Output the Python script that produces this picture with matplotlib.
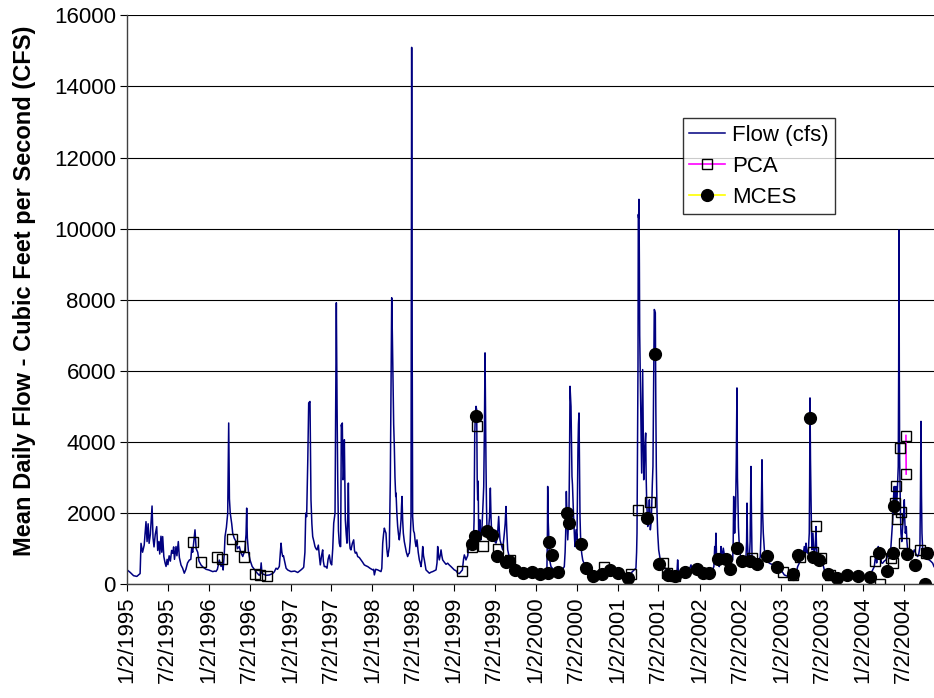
import numpy as np
import pandas as pd
import matplotlib
matplotlib.use("Agg")
import matplotlib.pyplot as plt

plt.rcParams['font.family'] = 'Liberation Sans'

# mean daily flow, decimal year vs cfs
flow_year = [
    1995.003, 1995.04, 1995.08, 1995.12, 1995.16, 1995.171, 1995.19, 1995.21, 1995.232, 1995.245,
    1995.258, 1995.27, 1995.285, 1995.306, 1995.318, 1995.33, 1995.345, 1995.363, 1995.375, 1995.39,
    1995.40, 1995.415, 1995.425, 1995.436, 1995.45, 1995.465, 1995.477, 1995.49, 1995.50, 1995.515,
    1995.53, 1995.545, 1995.559, 1995.57, 1995.58, 1995.59, 1995.599, 1995.61, 1995.627, 1995.64,
    1995.66, 1995.68, 1995.70, 1995.72, 1995.74, 1995.762, 1995.78, 1995.79, 1995.803, 1995.82,
    1995.831, 1995.845, 1995.864, 1995.88, 1995.905, 1995.93, 1995.966, 1996.00, 1996.048, 1996.075,
    1996.088, 1996.105, 1996.128, 1996.15, 1996.165, 1996.175, 1996.19, 1996.198, 1996.215, 1996.231,
    1996.243, 1996.252, 1996.262, 1996.28, 1996.292, 1996.31, 1996.333, 1996.35, 1996.373, 1996.39,
    1996.415, 1996.44, 1996.455, 1996.463, 1996.471, 1996.485, 1996.504, 1996.53, 1996.556, 1996.585,
    1996.617, 1996.63, 1996.64, 1996.65, 1996.70, 1996.74, 1996.78, 1996.801, 1996.822, 1996.84,
    1996.862, 1996.883, 1996.893, 1996.903, 1996.913, 1996.923, 1996.945, 1996.965, 1997.005, 1997.05,
    1997.087, 1997.127, 1997.15, 1997.160, 1997.175, 1997.185, 1997.196, 1997.21, 1997.221, 1997.237,
    1997.249, 1997.26, 1997.270, 1997.285, 1997.298, 1997.31, 1997.323, 1997.339, 1997.352, 1997.363,
    1997.378, 1997.392, 1997.40, 1997.412, 1997.428, 1997.445, 1997.458, 1997.473, 1997.488, 1997.502,
    1997.515, 1997.527, 1997.543, 1997.551, 1997.559, 1997.568, 1997.576, 1997.585, 1997.595, 1997.605,
    1997.612, 1997.620, 1997.626, 1997.632, 1997.641, 1997.648, 1997.657, 1997.663, 1997.669, 1997.68,
    1997.689, 1997.700, 1997.706, 1997.712, 1997.718, 1997.728, 1997.738, 1997.755, 1997.771, 1997.781,
    1997.791, 1997.805, 1997.820, 1997.84, 1997.861, 1997.88, 1997.901, 1997.92, 1997.943, 1997.97,
    1998.004, 1998.015, 1998.024, 1998.04, 1998.065, 1998.085, 1998.105, 1998.115, 1998.126, 1998.136,
    1998.146, 1998.156, 1998.166, 1998.176, 1998.187, 1998.197, 1998.207, 1998.215, 1998.219, 1998.228,
    1998.236, 1998.244, 1998.252, 1998.26, 1998.268, 1998.276, 1998.285, 1998.289, 1998.299, 1998.309,
    1998.319, 1998.329, 1998.34, 1998.350, 1998.356, 1998.362, 1998.37, 1998.378, 1998.39, 1998.402,
    1998.415, 1998.431, 1998.441, 1998.451, 1998.462, 1998.472, 1998.476, 1998.480, 1998.485, 1998.492,
    1998.503, 1998.513, 1998.523, 1998.533, 1998.545, 1998.56, 1998.574, 1998.584, 1998.594, 1998.605,
    1998.615, 1998.625, 1998.635, 1998.645, 1998.655, 1998.676, 1998.696, 1998.717, 1998.737, 1998.758,
    1998.778, 1998.790, 1998.798, 1998.808, 1998.818, 1998.828, 1998.839, 1998.849, 1998.859, 1998.879,
    1998.90, 1998.920, 1998.94, 1998.961, 1998.98, 1999.001, 1999.022, 1999.043, 1999.063, 1999.083,
    1999.10, 1999.114, 1999.124, 1999.134, 1999.144, 1999.155, 1999.165, 1999.177, 1999.185, 1999.193,
    1999.205, 1999.218, 1999.226, 1999.234, 1999.243, 1999.251, 1999.259, 1999.267, 1999.275, 1999.281,
    1999.287, 1999.293, 1999.299, 1999.307, 1999.315, 1999.321, 1999.328, 1999.338, 1999.348, 1999.355,
    1999.361, 1999.37, 1999.377, 1999.383, 1999.389, 1999.395, 1999.401, 1999.412, 1999.422, 1999.432,
    1999.442, 1999.45, 1999.458, 1999.47, 1999.483, 1999.497, 1999.511, 1999.527, 1999.544, 1999.552,
    1999.560, 1999.577, 1999.593, 1999.603, 1999.613, 1999.623, 1999.633, 1999.643, 1999.654, 1999.674,
    1999.694, 1999.715, 1999.735, 1999.765, 1999.796, 1999.837, 1999.878, 1999.91, 1999.939, 1999.98,
    2000.020, 2000.06, 2000.102, 2000.125, 2000.134, 2000.140, 2000.143, 2000.149, 2000.155, 2000.161,
    2000.167, 2000.183, 2000.20, 2000.224, 2000.245, 2000.265, 2000.286, 2000.306, 2000.326, 2000.346,
    2000.356, 2000.363, 2000.371, 2000.38, 2000.388, 2000.395, 2000.403, 2000.41, 2000.416, 2000.422,
    2000.428, 2000.434, 2000.440, 2000.446, 2000.452, 2000.458, 2000.465, 2000.471, 2000.477, 2000.483,
    2000.489, 2000.495, 2000.501, 2000.507, 2000.513, 2000.519, 2000.526, 2000.532, 2000.538, 2000.544,
    2000.550, 2000.56, 2000.571, 2000.581, 2000.591, 2000.61, 2000.632, 2000.652, 2000.672, 2000.713,
    2000.754, 2000.795, 2000.835, 2000.876, 2000.917, 2000.958, 2000.999, 2001.04, 2001.080, 2001.12,
    2001.161, 2001.19, 2001.222, 2001.230, 2001.235, 2001.241, 2001.247, 2001.251, 2001.255, 2001.259,
    2001.264, 2001.268, 2001.276, 2001.284, 2001.292, 2001.298, 2001.304, 2001.310, 2001.317, 2001.323,
    2001.329, 2001.335, 2001.341, 2001.347, 2001.353, 2001.36, 2001.366, 2001.376, 2001.386, 2001.392,
    2001.398, 2001.406, 2001.415, 2001.422, 2001.430, 2001.438, 2001.446, 2001.452, 2001.459, 2001.465,
    2001.471, 2001.480, 2001.488, 2001.500, 2001.515, 2001.528, 2001.55, 2001.589, 2001.63, 2001.671,
    2001.70, 2001.725, 2001.732, 2001.740, 2001.752, 2001.79, 2001.834, 2001.87, 2001.895, 2001.905,
    2001.916, 2001.957, 2001.997, 2002.04, 2002.078, 2002.12, 2002.160, 2002.175, 2002.185, 2002.192,
    2002.200, 2002.206, 2002.213, 2002.227, 2002.241, 2002.252, 2002.262, 2002.268, 2002.274, 2002.282,
    2002.290, 2002.305, 2002.323, 2002.343, 2002.363, 2002.385, 2002.405, 2002.411, 2002.417, 2002.423,
    2002.429, 2002.435, 2002.441, 2002.449, 2002.457, 2002.463, 2002.469, 2002.475, 2002.482, 2002.494,
    2002.506, 2002.527, 2002.547, 2002.565, 2002.575, 2002.580, 2002.586, 2002.592, 2002.608, 2002.618,
    2002.628, 2002.635, 2002.641, 2002.655, 2002.669, 2002.69, 2002.710, 2002.726, 2002.742, 2002.752,
    2002.763, 2002.771, 2002.779, 2002.791, 2002.803, 2002.83, 2002.852, 2002.893, 2002.934, 2002.965,
    2002.995, 2003.036, 2003.067, 2003.097, 2003.128, 2003.158, 2003.18, 2003.199, 2003.220, 2003.240,
    2003.26, 2003.280, 2003.290, 2003.301, 2003.311, 2003.321, 2003.331, 2003.341, 2003.346, 2003.350,
    2003.356, 2003.362, 2003.368, 2003.374, 2003.380, 2003.386, 2003.394, 2003.403, 2003.413, 2003.423,
    2003.429, 2003.435, 2003.449, 2003.463, 2003.484, 2003.505, 2003.525, 2003.546, 2003.566, 2003.606,
    2003.647, 2003.708, 2003.769, 2003.83, 2003.891, 2003.95, 2004.014, 2004.055, 2004.095, 2004.116,
    2004.136, 2004.146, 2004.156, 2004.165, 2004.175, 2004.185, 2004.197, 2004.209, 2004.223, 2004.238,
    2004.258, 2004.279, 2004.30, 2004.319, 2004.335, 2004.350, 2004.361, 2004.370, 2004.380, 2004.390,
    2004.401, 2004.407, 2004.413, 2004.421, 2004.429, 2004.434, 2004.438, 2004.442, 2004.446, 2004.450,
    2004.456, 2004.462, 2004.472, 2004.483, 2004.493, 2004.503, 2004.509, 2004.515, 2004.521, 2004.527,
    2004.535, 2004.544, 2004.564, 2004.584, 2004.605, 2004.625, 2004.645, 2004.666, 2004.680, 2004.694,
    2004.700, 2004.707, 2004.713, 2004.719, 2004.727, 2004.735, 2004.752, 2004.768, 2004.788, 2004.808,
    2004.83, 2004.850, 2004.866,
]
flow_cfs = [
    400, 330, 240, 220, 300, 1150, 900, 1100, 1760, 1200,
    1700, 1150, 1400, 2200, 1300, 1050, 1400, 1620, 950, 1200,
    850, 1350, 900, 1340, 780, 600, 500, 700, 550, 800,
    650, 950, 870, 1050, 700, 900, 1060, 800, 1200, 750,
    540, 450, 310, 420, 600, 680, 700, 1000, 900, 1300,
    1530, 1000, 900, 650, 540, 480, 420, 400, 355, 370,
    360, 420, 680, 500, 600, 400, 900, 1340, 1600, 2000,
    4535, 2400, 2000, 1700, 1437, 1300, 1200, 1000, 1060, 900,
    780, 950, 1400, 2141, 1300, 900, 680, 500, 420, 330,
    250, 300, 600, 300, 250, 260, 300, 350, 450, 420,
    500, 1155, 900, 780, 800, 684, 450, 400, 355, 370,
    330, 403, 450, 479, 900, 2000, 1900, 3500, 5100, 5140,
    2375, 1700, 1341, 1200, 1060, 1000, 966, 1100, 780, 544,
    800, 966, 650, 496, 500, 451, 700, 825, 600, 544,
    1000, 1718, 2000, 5000, 7916, 5000, 2938, 1500, 1155, 1060,
    1060, 4487, 4400, 4535, 2938, 3000, 4065, 2800, 1811, 1400,
    1155, 2000, 2845, 1800, 1248, 1000, 966, 1150, 1248, 950,
    873, 900, 778, 750, 684, 620, 544, 520, 496, 450,
    403, 420, 262, 420, 403, 380, 355, 450, 1155, 1400,
    1577, 1500, 1437, 1000, 778, 900, 1060, 2200, 2938, 5500,
    8057, 7000, 5755, 4500, 3876, 3000, 2468, 2563, 2000, 1623,
    1400, 1248, 1500, 1811, 2200, 2468, 1800, 1437, 1200, 1060,
    900, 778, 850, 873, 1200, 1904, 8000, 15100, 8000, 1904,
    1500, 1437, 1200, 1060, 1248, 900, 684, 600, 496, 700,
    1060, 800, 684, 550, 403, 355, 310, 340, 355, 380,
    403, 600, 1060, 800, 684, 800, 966, 800, 684, 620,
    560, 592, 540, 496, 450, 403, 380, 310, 300, 355,
    400, 700, 825, 750, 684, 750, 800, 1060, 1100, 1060,
    1200, 1437, 1300, 1060, 1800, 4200, 4800, 5003, 4900, 3000,
    2375, 2900, 1437, 1600, 1811, 1500, 1248, 1500, 2000, 2400,
    2750, 4500, 6507, 4800, 3313, 2200, 1530, 1500, 1600, 1900,
    2704, 1900, 1437, 1300, 1248, 1200, 1155, 1300, 1904, 1500,
    1248, 1100, 966, 1200, 1437, 1700, 2186, 1500, 966, 750,
    684, 600, 496, 420, 403, 330, 310, 280, 262, 300,
    290, 300, 310, 350, 496, 1500, 2750, 1800, 1437, 900,
    684, 496, 450, 355, 330, 310, 330, 355, 420, 496,
    900, 1437, 2609, 1800, 1248, 1600, 2000, 3500, 5567, 5285,
    5000, 4000, 3031, 2800, 2375, 2000, 1623, 1300, 1060, 1300,
    1530, 1400, 1248, 2500, 3783, 4500, 4817, 3200, 1904, 1400,
    1060, 850, 684, 620, 592, 480, 403, 380, 355, 330,
    355, 370, 355, 330, 310, 290, 262, 240, 214, 250,
    310, 380, 451, 900, 1437, 4000, 6130, 10400, 10300, 10826,
    9000, 7000, 5662, 4500, 3127, 4500, 6037, 4500, 2938, 3200,
    3783, 4000, 4253, 3000, 2375, 2000, 1623, 1800, 2375, 1900,
    1530, 1700, 2186, 2800, 3313, 5500, 7727, 7700, 7634, 5000,
    3313, 2000, 1437, 966, 750, 592, 540, 420, 330, 310,
    330, 400, 684, 400, 355, 340, 355, 380, 544, 450,
    403, 380, 355, 330, 310, 330, 403, 500, 1060, 800,
    1437, 900, 684, 550, 496, 700, 1060, 900, 778, 850,
    1014, 800, 684, 600, 496, 600, 684, 1200, 2468, 1800,
    1437, 1800, 2186, 3500, 5521, 3000, 2375, 1600, 1248, 900,
    684, 620, 592, 650, 1200, 2282, 1200, 800, 684, 1200,
    3313, 1800, 800, 684, 684, 620, 592, 650, 778, 1500,
    3501, 2000, 1437, 1000, 778, 650, 592, 550, 496, 400,
    403, 262, 230, 214, 200, 214, 300, 496, 600, 684,
    700, 1060, 800, 1155, 900, 873, 1000, 1437, 3000, 5240,
    3500, 2375, 1500, 966, 1200, 1437, 1000, 873, 1000, 1623,
    1100, 873, 780, 684, 640, 592, 403, 300, 214, 180,
    150, 160, 169, 180, 214, 200, 214, 260, 310, 400,
    496, 700, 873, 600, 900, 1060, 800, 873, 600, 592,
    650, 684, 800, 966, 900, 1400, 1811, 2400, 2750, 2200,
    2750, 2000, 2375, 2800, 3313, 6000, 9962, 6000, 3500, 2845,
    2000, 1437, 1200, 1623, 1900, 2375, 1800, 1437, 1500, 1623,
    1200, 966, 850, 778, 850, 966, 850, 778, 850, 1060,
    2500, 4581, 2500, 1437, 1000, 873, 800, 778, 700, 684,
    640, 592, 496,
]

# PCA grab samples
pca_year = [
    1995.811, 1995.901, 1996.104, 1996.165, 1996.284, 1996.381, 1996.434, 1996.565, 1996.626, 1996.708,
    1999.095, 1999.215, 1999.273, 1999.356, 1999.535, 1999.682, 2000.831, 2001.167, 2001.243, 2001.396,
    2001.556, 2001.598, 2001.699, 2002.641, 2003.023, 2003.146, 2003.227, 2003.386, 2003.429, 2003.490,
    2003.600, 2004.150, 2004.202, 2004.340, 2004.364, 2004.389, 2004.407, 2004.416, 2004.445, 2004.467,
    2004.502, 2004.523, 2004.5258, 2004.691, 2004.768,
]
pca_cfs = [
    1183, 620, 778, 713, 1276, 1087, 761, 290, 254, 225,
    383, 1060, 4440, 1070, 990, 684, 480, 300, 2093, 2300,
    592, 320, 234, 732, 355, 262, 778, 920, 1642, 732,
    262, 650, 15, 732, 590, 2290, 2769, 1831, 3820, 2030,
    1172, 4183, 3099, 966, 873,
]

# MCES samples
mces_year = [
    1999.218, 1999.254, 1999.267, 1999.397, 1999.458, 1999.523, 1999.633, 1999.670, 1999.749, 1999.841,
    1999.947, 2000.049, 2000.150, 2000.163, 2000.196, 2000.275, 2000.381, 2000.407, 2000.546, 2000.611,
    2000.697, 2000.801, 2000.905, 2001.002, 2001.119, 2001.363, 2001.455, 2001.507, 2001.617, 2001.699,
    2001.822, 2001.965, 2002.045, 2002.119, 2002.229, 2002.323, 2002.372, 2002.454, 2002.515, 2002.616,
    2002.698, 2002.828, 2002.950, 2003.146, 2003.199, 2003.350, 2003.390, 2003.463, 2003.573, 2003.676,
    2003.798, 2003.940, 2004.083, 2004.197, 2004.287, 2004.368, 2004.380, 2004.539, 2004.633, 2004.756,
    2004.776,
]
mces_cfs = [
    1130, 1350, 4741, 1505, 1380, 790, 637, 660, 390, 327,
    355, 290, 310, 1200, 825, 355, 2000, 1735, 1135, 451,
    234, 300, 395, 310, 169, 1876, 6480, 572, 262, 234,
    355, 423, 310, 310, 704, 721, 423, 1014, 665, 665,
    572, 797, 496, 282, 825, 4676, 778, 684, 290, 169,
    262, 234, 197, 873, 383, 890, 2210, 854, 544, 20,
    873,
]

tick_labels = []
for yr in range(1995, 2005):
    tick_labels += [f'1/2/{yr}', f'7/2/{yr}']

start = pd.Timestamp('1995-01-02')


def to_date(years):
    return start + pd.to_timedelta((np.asarray(years, dtype=float) - 1995) * 365.25, unit='D')


def break_gaps(years, values, max_days=1.5):
    # samples only join up when taken on consecutive days
    t = to_date(years)
    v = np.asarray(values, dtype=float)
    xs, ys = [t[0]], [v[0]]
    for i in range(1, len(t)):
        if (t[i] - t[i - 1]) / pd.Timedelta(days=1) > max_days:
            xs.append(t[i - 1])
            ys.append(np.nan)
        xs.append(t[i])
        ys.append(v[i])
    return xs, ys


fig = plt.figure(figsize=(9.34, 6.98), dpi=100)
ax = fig.add_axes([0.136, 0.163, 0.864, 0.815])

ax.plot(to_date(flow_year), flow_cfs, color='#000080', linewidth=1.1, label='Flow (cfs)')

px, py = break_gaps(pca_year, pca_cfs)
ax.plot(px, py, color='#FF00FF', linewidth=1.2, marker='s', markersize=7.5,
        markerfacecolor='none', markeredgecolor='black', markeredgewidth=1.0, label='PCA')

mx, my = break_gaps(mces_year, mces_cfs)
ax.plot(mx, my, color='#FFFF00', linewidth=1.2, marker='o', markersize=8.5,
        markerfacecolor='black', markeredgecolor='black', label='MCES')

tick_dates = pd.to_datetime(tick_labels, format='%m/%d/%Y')
ax.set_xticks(tick_dates)
ax.set_xticklabels(tick_labels, rotation=90, fontsize=16)
ax.set_xlim(start, to_date([2004.866])[0])

ax.set_ylim(0, 16000)
ax.set_yticks(np.arange(0, 16001, 2000))
ax.tick_params(axis='y', labelsize=16, length=5, pad=3, direction='out')
ax.tick_params(axis='x', length=5, pad=4, direction='out')
ax.set_ylabel('Mean Daily Flow - Cubic Feet per Second (CFS)', fontsize=17,
              fontweight='bold', labelpad=13, y=0.515)

ax.yaxis.grid(True, color='black', linewidth=0.8)
ax.set_axisbelow(True)
for side in ['top', 'right']:
    ax.spines[side].set_visible(False)
for side in ['left', 'bottom']:
    ax.spines[side].set_color('#404040')
    ax.spines[side].set_linewidth(1.0)

leg = ax.legend(loc='upper right', bbox_to_anchor=(835 / 934, 1 - 118 / 698),
                bbox_transform=fig.transFigure, fontsize=16, frameon=True, fancybox=False,
                edgecolor='black', handlelength=1.6, handletextpad=0.3, labelspacing=0.45,
                borderpad=0.3, borderaxespad=0)
leg.get_frame().set_linewidth(1.0)

fig.savefig('out.png', dpi=100)
